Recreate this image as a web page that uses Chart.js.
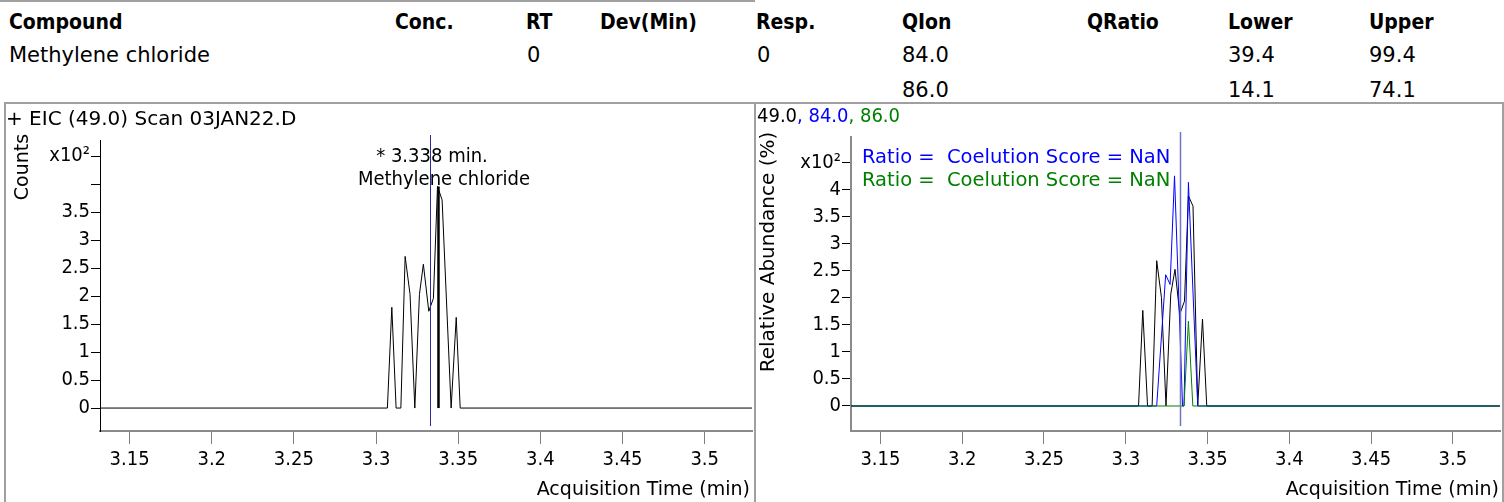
<!DOCTYPE html>
<html>
<head>
<meta charset="utf-8">
<script src="https://cdn.jsdelivr.net/npm/chart.js@4.4.1/dist/chart.umd.min.js"></script>
<style>
    body { margin: 0; width: 1504px; height: 502px; overflow: hidden; background: #fff; position: relative;
           font-family: "DejaVu Sans", sans-serif; }
    .hd { position: absolute; font-size: 21px; line-height: 21px; white-space: nowrap; color: #000; }
    .b { font-family: "DejaVu Sans Condensed", "DejaVu Sans", sans-serif; font-weight: bold; }
    #topline { position: absolute; left: 0; top: 0; width: 755px; height: 2px; background: #a0a0a0; }
    .panel { position: absolute; top: 102px; height: 400px; border-top: 2px solid #a0a0a0; border-left: 2px solid #a0a0a0; }
    canvas { position: absolute; top: 100px; }
</style>
</head>
<body>
<div id="topline"></div>

<div class="hd b" style="left:9px;top:12px">Compound</div>
<div class="hd b" style="left:395px;top:12px">Conc.</div>
<div class="hd b" style="left:526px;top:12px">RT</div>
<div class="hd b" style="left:600px;top:12px">Dev(Min)</div>
<div class="hd b" style="left:756px;top:12px">Resp.</div>
<div class="hd b" style="left:902px;top:12px">QIon</div>
<div class="hd b" style="left:1087px;top:12px">QRatio</div>
<div class="hd b" style="left:1228px;top:12px">Lower</div>
<div class="hd b" style="left:1369px;top:12px">Upper</div>

<div class="hd" style="left:9px;top:45px">Methylene chloride</div>
<div class="hd" style="left:527px;top:45px">0</div>
<div class="hd" style="left:757px;top:45px">0</div>
<div class="hd" style="left:902px;top:45px">84.0</div>
<div class="hd" style="left:1228px;top:45px">39.4</div>
<div class="hd" style="left:1369px;top:45px">99.4</div>

<div class="hd" style="left:902px;top:80px">86.0</div>
<div class="hd" style="left:1228px;top:80px">14.1</div>
<div class="hd" style="left:1369px;top:80px">74.1</div>

<div class="panel" style="left:4px;width:749px"></div>
<div class="panel" style="left:754px;width:746px;border-right:2px solid #a0a0a0"></div>

<canvas id="eicChart" width="755" height="402" style="left:0"></canvas>
<canvas id="ratioChart" width="749" height="402" style="left:755px"></canvas>

<script>
// axis ticks (minutes / x10^2)
const timeTicks = [3.15, 3.2, 3.25, 3.3, 3.35, 3.4, 3.45, 3.5];
const abundTicks = [0, 0.5, 1, 1.5, 2, 2.5, 3, 3.5, 4, 4.5];

// EIC 49.0 (counts x10^2)
const eicTime = [3.12, 3.3069, 3.3096, 3.3122, 3.3151, 3.3177, 3.3207, 3.3236, 3.3264, 3.3288, 3.3321, 3.3349, 3.3374, 3.3402, 3.3457, 3.3488, 3.3512, 3.54];
const eicCounts = [0, 0, 1.80, 0, 0, 2.71, 2.03, 0, 2.03, 2.57, 1.73, 1.96, 3.96, 3.72, 0, 1.62, 0, 0];

// qualifier overlay (relative abundance x10^2)
const ion49Time = [3.12, 3.3078, 3.3104, 3.3133, 3.3161, 3.3189, 3.3218, 3.3246, 3.3275, 3.3301, 3.3330, 3.3359, 3.3383, 3.3411, 3.3440, 3.3469, 3.3495, 3.54];
const ion49Abund = [0, 0, 1.77, 0, 0, 2.69, 2.01, 0, 2.07, 2.53, 1.70, 1.94, 3.89, 3.70, 0, 1.61, 0, 0];
const ion84Time = [3.12, 3.3189, 3.3244, 3.3271, 3.3298, 3.3347, 3.3356, 3.3383, 3.3440, 3.54];
const ion84Abund = [0, 0, 2.43, 2.25, 4.26, 0, 0, 4.14, 0, 0];
const ion86Time = [3.12, 3.3356, 3.3383, 3.3410, 3.54];
const ion86Abund = [0, 0, 1.57, 0, 0];

const rtTime = 3.333;      // expected RT marker
const apexTime = 3.338;    // found peak apex
const apexCounts = 3.96;

const COND = '"DejaVu Sans Condensed", "DejaVu Sans", sans-serif';
const WIDE = '"DejaVu Sans", sans-serif';
const BLUE = '#0000ff';
const GREEN = '#008000';

const pts = (xs, ys) => xs.map((x, i) => ({ x: x, y: ys[i] }));
const fmtTime = v => String(Number(v.toFixed(2)));

function xScale(areaHeight) {
    return {
        type: 'linear',
        min: 3.132,
        max: 3.5288,
        afterBuildTicks: s => { s.ticks = timeTicks.map(v => ({ value: v })); },
        afterFit: s => { s.height = areaHeight; },
        ticks: { callback: v => fmtTime(v), color: '#000', font: { family: COND, size: 20 }, padding: 4, maxRotation: 0, autoSkip: false },
        grid: { drawOnChartArea: false, drawTicks: true, tickLength: 13, tickColor: '#808080', tickWidth: 1 },
        border: { color: '#8a8a8a', width: 2 }
    };
}

function yScale(min, max, width, hideFour, borderColor, borderWidth) {
    return {
        type: 'linear',
        min: min,
        max: max,
        afterBuildTicks: s => { s.ticks = abundTicks.map(v => ({ value: v })); },
        afterFit: s => { s.width = width; },
        ticks: {
            callback: v => v === 4.5 ? 'x10²' : (hideFour && v === 4 ? '' : String(v)),
            color: '#000', font: { family: COND, size: 20 }, padding: 1, autoSkip: false
        },
        grid: { drawOnChartArea: false, drawTicks: true, tickLength: 9, tickColor: '#000', tickWidth: 1 },
        border: { color: borderColor, width: borderWidth }
    };
}

// extra labels and the RT marker
const extras = {
    id: 'extras',
    afterDatasetsDraw(chart, args, opts) {
        const { ctx, chartArea } = chart;
        const x = chart.scales.x;
        ctx.save();
        const rx = Math.round(x.getPixelForValue(rtTime)) + 0.5;
        ctx.strokeStyle = opts.rtColor;
        ctx.lineWidth = opts.rtWidth;
        ctx.beginPath();
        ctx.moveTo(rx, chartArea.top - 5);
        ctx.lineTo(rx, chartArea.bottom - 5);
        ctx.stroke();

        ctx.textBaseline = 'middle';
        opts.texts.forEach(t => {
            ctx.save();
            ctx.font = (t.size || 20) + 'px ' + (t.family || COND);
            ctx.translate(t.x, t.y);
            if (t.rotate) ctx.rotate(-Math.PI / 2);
            ctx.textAlign = t.align || 'left';
            let cx = 0;
            t.parts.forEach(p => {
                ctx.fillStyle = p[1] || '#000';
                ctx.fillText(p[0], cx, 0);
                cx += ctx.measureText(p[0]).width;
            });
            ctx.restore();
        });
        ctx.restore();
    }
};

const baseOptions = {
    responsive: false,
    animation: false,
    devicePixelRatio: 1,
    elements: { point: { radius: 0 }, line: { tension: 0 } }
};

new Chart(document.getElementById('eicChart'), {
    type: 'line',
    data: {
        datasets: [
            { data: pts([apexTime, apexTime], [0, apexCounts]), borderColor: '#000', borderWidth: 2.5, order: 1 },
            { data: pts(eicTime, eicCounts), borderColor: '#000', borderWidth: 1, order: 2 }
        ]
    },
    options: {
        ...baseOptions,
        layout: { padding: { left: 0, top: 40, right: 3, bottom: 0 } },
        scales: {
            x: xScale(71),
            y: yScale(-0.41, 4.79, 100, true, '#000', 1)
        },
        plugins: {
            legend: { display: false },
            tooltip: { enabled: false },
            extras: {
                rtColor: '#2a2a9a',
                rtWidth: 1,
                texts: [
                    { x: 6, y: 20, family: WIDE, parts: [['+ EIC (49.0) Scan 03JAN22.D']] },
                    { x: 23, y: 67, rotate: true, align: 'center', family: WIDE, size: 19, parts: [['Counts']] },
                    { x: 432, y: 57, align: 'center', parts: [['* 3.338 min.']] },
                    { x: 444, y: 80, align: 'center', parts: [['Methylene chloride']] },
                    { x: 750, y: 390, align: 'right', family: WIDE, size: 19, parts: [['Acquisition Time (min)']] }
                ]
            }
        }
    },
    plugins: [extras]
});

new Chart(document.getElementById('ratioChart'), {
    type: 'line',
    data: {
        datasets: [
            { data: pts(ion86Time, ion86Abund), borderColor: GREEN, borderWidth: 1, order: 1 },
            { data: pts(ion84Time, ion84Abund), borderColor: BLUE, borderWidth: 1, order: 2 },
            { data: pts(ion49Time, ion49Abund), borderColor: '#000', borderWidth: 1, order: 3 }
        ]
    },
    options: {
        ...baseOptions,
        layout: { padding: { left: 0, top: 37, right: 4, bottom: 0 } },
        scales: {
            x: xScale(71),
            y: yScale(-0.463, 4.98, 96, false, '#8a8a8a', 2)
        },
        plugins: {
            legend: { display: false },
            tooltip: { enabled: false },
            extras: {
                rtColor: '#7474c4',
                rtWidth: 1.5,
                texts: [
                    { x: 2, y: 17, parts: [['49.0'], [', 84.0', BLUE], [', 86.0', GREEN]] },
                    { x: 14, y: 152, rotate: true, align: 'center', family: WIDE, parts: [['Relative Abundance (%)']] },
                    { x: 107, y: 58, family: WIDE, size: 19.5, parts: [['Ratio =  Coelution Score = NaN', BLUE]] },
                    { x: 107, y: 81, family: WIDE, size: 19.5, parts: [['Ratio =  Coelution Score = NaN', GREEN]] },
                    { x: 744, y: 390, align: 'right', family: WIDE, size: 19, parts: [['Acquisition Time (min)']] }
                ]
            }
        }
    },
    plugins: [extras]
});
</script>
</body>
</html>
